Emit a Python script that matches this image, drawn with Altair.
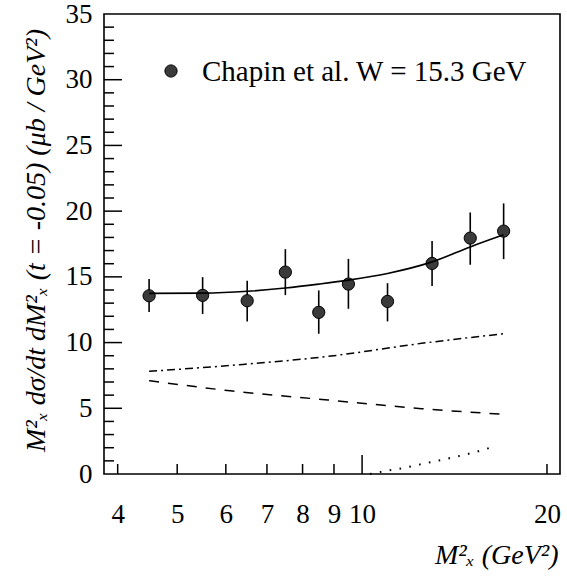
import altair as alt
import pandas as pd

# ---- data ----
pts_x = [4.5, 5.5, 6.5, 7.5, 8.5, 9.5, 11, 13, 15, 17]
pts_y = [13.56, 13.59, 13.18, 15.36, 12.30, 14.45, 13.13, 16.02, 17.95, 18.48]
err_lo = [12.32, 12.17, 11.61, 13.61, 10.67, 12.57, 11.61, 14.30, 15.92, 16.35]
err_hi = [14.83, 14.98, 14.70, 17.11, 13.97, 16.37, 14.52, 17.72, 19.90, 20.59]

fit_x = [4.5, 5.5, 6.5, 7.5, 8.5, 9.5, 11, 13, 15, 17]
fit_y = [13.74, 13.76, 13.90, 14.15, 14.45, 14.75, 15.26, 16.14, 17.28, 18.20]

dashdot_x = [4.5, 6.4, 8.7, 12.5, 17]
dashdot_y = [7.81, 8.34, 8.92, 9.94, 10.67]

dashed_x = [4.5, 6.1, 8.8, 12.5, 17]
dashed_y = [7.10, 6.33, 5.63, 4.97, 4.54]

dotted_x = [10.3, 11.0, 11.5, 12.8, 14.3, 15.9, 16.5]
dotted_y = [0.0, 0.25, 0.40, 0.86, 1.34, 1.90, 2.15]

x_tick_values = [4, 5, 6, 7, 8, 9, 10, 20]
x_minor_ticks = [4, 5, 6, 7, 8, 9, 20]
x_major_ticks = [10]
y_tick_values = [0, 5, 10, 15, 20, 25, 30, 35]
y_major_ticks = [5, 10, 15, 20, 25, 30]
y_minor_ticks = [v for v in range(1, 35) if v % 5 != 0]

legend_label = "Chapin et al. W = 15.3 GeV"
x_title = "M²ₓ  (GeV²)"
y_title = "M²ₓ dσ/dt dM²ₓ (t = -0.05) (μb / GeV²)"

W, H = 456, 460
FONT = "Liberation Serif"

xscale = alt.Scale(type="log", domain=[3.8, 21], nice=False)
yscale = alt.Scale(domain=[0, 35], nice=False)

pts = pd.DataFrame({"x": pts_x, "y": pts_y, "lo": err_lo, "hi": err_hi})

xaxis = alt.Axis(values=x_tick_values, format="d", ticks=False, domain=False, grid=False,
                 labelPadding=27, title=x_title, titleAlign="right", titleX=454,
                 titleY=81, titleBaseline="middle", titleAnchor="end")
yaxis = alt.Axis(values=y_tick_values, ticks=False, domain=False, grid=False,
                 labelPadding=12, labelBaseline="middle", title=y_title,
                 titleX=-68, titleY=H / 2 - 4, titleAngle=270, titleAlign="center",
                 titleBaseline="middle", titleAnchor="middle")


def X(field):
    return alt.X(field, type="quantitative", scale=xscale, axis=xaxis, title=x_title)


def Y(field):
    return alt.Y(field, type="quantitative", scale=yscale, axis=yaxis, title=y_title)


errs = alt.Chart(pts).mark_rule(color="black", strokeWidth=1.6).encode(
    x=X("x"), y=Y("lo"), y2="hi:Q",
)
dots = alt.Chart(pts).mark_circle(size=150, color="#3a3a3a", stroke="black",
                                  strokeWidth=1, opacity=1).encode(
    x=X("x"), y=Y("y"),
)


def curve(xs, ys, dash, width=1.5):
    df = pd.DataFrame({"x": xs, "y": ys})
    kw = dict(color="black", strokeWidth=width, interpolate="monotone")
    if dash:
        kw["strokeDash"] = dash
    return alt.Chart(df).mark_line(**kw).encode(x=X("x"), y=Y("y"))


fit = curve(fit_x, fit_y, None, 1.6)
dd = curve(dashdot_x, dashdot_y, [8, 4, 2, 4], 1.5)
dsh = curve(dashed_x, dashed_y, [10, 9], 1.5)
dot = curve(dotted_x, dotted_y, [1.6, 8.4], 2)


def yticks(vals, length):
    return alt.Chart(pd.DataFrame({"v": vals})).mark_rule(color="black", strokeWidth=1.5).encode(
        y=Y("v"), x=alt.value(0), x2=alt.value(length),
    )


def xticks(vals, length):
    return alt.Chart(pd.DataFrame({"v": vals})).mark_rule(color="black", strokeWidth=1.5).encode(
        x=X("v"), y=alt.value(H), y2=alt.value(H - length),
    )


leg_df = pd.DataFrame({"t": [legend_label]})
leg_dot = alt.Chart(leg_df).mark_circle(size=150, color="#3a3a3a", stroke="black",
                                        strokeWidth=1, opacity=1).encode(
    x=alt.value(67), y=alt.value(57))
leg_txt = alt.Chart(leg_df).mark_text(align="left", baseline="middle", font=FONT,
                                      fontSize=29, color="black").encode(
    x=alt.value(98), y=alt.value(58), text="t:N")

chart = alt.layer(
    errs, dots, fit, dd, dsh, dot,
    yticks(y_major_ticks, 18), yticks(y_minor_ticks, 10),
    xticks(x_minor_ticks, 10), xticks(x_major_ticks, 19),
    leg_dot, leg_txt,
).properties(
    width=W, height=H,
    autosize=alt.AutoSizeParams(type="none"),
    padding={"left": 104, "top": 14, "right": 7, "bottom": 102},
    background="white",
).configure_view(
    stroke="black", strokeWidth=1.6
).configure_axis(
    labelFont=FONT, labelFontSize=27, labelColor="black",
    titleFont=FONT, titleFontSize=28, titleColor="black",
    titleFontStyle="italic", titleFontWeight="normal",
)

chart.save("out.html", embed_options={"renderer": "svg", "actions": False})
